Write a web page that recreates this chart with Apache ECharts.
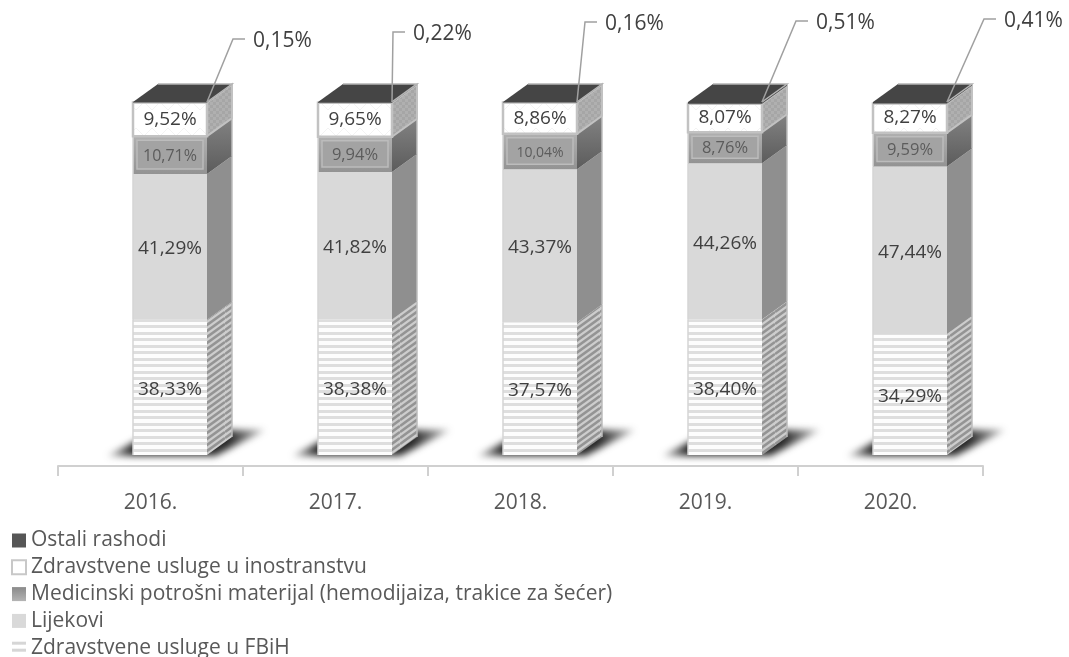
<!DOCTYPE html>
<html>
<head>
<meta charset="utf-8">
<title>Rashodi</title>
<style>
html, body { margin: 0; padding: 0; background: #fff; }
#main { width: 1069px; height: 657px; }
</style>
<script src="https://cdn.jsdelivr.net/npm/echarts@6/dist/echarts.min.js"></script>
</head>
<body>
<div id="main"></div>
<script>
// values, in percent, bottom of the stack first
var years = ['2016.', '2017.', '2018.', '2019.', '2020.'];
var zdravstveneFbih = [38.33, 38.38, 37.57, 38.40, 34.29];
var lijekovi = [41.29, 41.82, 43.37, 44.26, 47.44];
var medicinski = [10.71, 9.94, 10.04, 8.76, 9.59];
var inostranstvo = [9.52, 9.65, 8.86, 8.07, 8.27];
var ostali = [0.15, 0.22, 0.16, 0.51, 0.41];

var seriesNames = [
    'Zdravstvene usluge u FBiH',
    'Lijekovi',
    'Medicinski potrošni materijal (hemodijaiza, trakice za šećer)',
    'Zdravstvene usluge u inostranstvu',
    'Ostali rashodi'
];
var seriesValues = [zdravstveneFbih, lijekovi, medicinski, inostranstvo, ostali];

// box shape
var FONT = '"Open Sans"';
var BOX_SHIFT = -17.5;
var BOX_W = 74;
var DX = 25;
var DY = -18;
var medFontSize = [16, 16.5, 14, 16.5, 16.5];
var calloutElbow = [[26, -63], [1, -70], [8, -80], [34, -81], [37, -83]];

function makePattern(w, h, draw) {
    var c = document.createElement('canvas');
    c.width = w;
    c.height = h;
    draw(c.getContext('2d'));
    return { image: c, repeat: 'repeat' };
}

var stripesFront = makePattern(4, 13, function (g) {
    g.fillStyle = '#fdfdfd';
    g.fillRect(0, 0, 4, 13);
    g.fillStyle = '#dedede';
    g.fillRect(0, 0, 4, 3);
    g.fillRect(0, 7, 4, 3);
});
var stripesSide = makePattern(25, 6, function (g) {
    g.fillStyle = '#cdcdcd';
    g.fillRect(0, 0, 25, 6);
    g.strokeStyle = '#949494';
    g.lineWidth = 2.6;
    for (var i = -4; i < 5; i++) {
        g.beginPath();
        g.moveTo(0, 18 + i * 6);
        g.lineTo(25, i * 6);
        g.stroke();
    }
});
var hatchSide = makePattern(6, 6, function (g) {
    g.fillStyle = '#a6a6a6';
    g.fillRect(0, 0, 6, 6);
    g.fillStyle = '#b0b0b0';
    g.fillRect(0, 0, 3, 3);
    g.fillRect(3, 3, 3, 3);
});
var zigzagFront = makePattern(16, 34, function (g) {
    g.fillStyle = '#ffffff';
    g.fillRect(0, 0, 16, 34);
    g.strokeStyle = '#f3f3f3';
    g.lineWidth = 1;
    g.beginPath();
    g.moveTo(0, 0);
    g.lineTo(8, 8);
    g.lineTo(16, 0);
    g.moveTo(0, 34);
    g.lineTo(8, 26);
    g.lineTo(16, 34);
    g.stroke();
});

// soft floor shadow, drawn once and stamped under each column
var SHADOW_X = 40;
var SHADOW_Y = 50;
var floorShadow = document.createElement('canvas');
floorShadow.width = 220;
floorShadow.height = 70;
(function () {
    var g = floorShadow.getContext('2d');
    var fade = g.createLinearGradient(SHADOW_X - 30, 0, SHADOW_X + 134, 0);
    fade.addColorStop(0, 'rgba(40,40,40,0.1)');
    fade.addColorStop(0.18, 'rgba(40,40,40,1)');
    fade.addColorStop(0.76, 'rgba(40,40,40,1)');
    fade.addColorStop(1, 'rgba(40,40,40,0.25)');
    g.filter = 'blur(3.5px)';
    g.fillStyle = fade;
    g.beginPath();
    g.moveTo(SHADOW_X - 26, SHADOW_Y + 1);
    g.lineTo(SHADOW_X + 82, SHADOW_Y + 1);
    g.lineTo(SHADOW_X + 132, SHADOW_Y - 25);
    g.lineTo(SHADOW_X + 24, SHADOW_Y - 25);
    g.closePath();
    g.fill();
})();

var sideGradient = new echarts.graphic.LinearGradient(0, 0, 0, 1, [
    { offset: 0, color: '#828282' },
    { offset: 1, color: '#5c5c5c' }
]);
var medFront = new echarts.graphic.LinearGradient(0, 0, 0, 1, [
    { offset: 0, color: '#b0b0b0' },
    { offset: 1, color: '#939393' }
]);
var medSwatch = new echarts.graphic.LinearGradient(0, 0, 0, 1, [
    { offset: 0, color: '#8a8a8a' },
    { offset: 1, color: '#b4b4b4' }
]);

var faces = [
    { front: stripesFront, side: stripesSide },
    { front: '#d9d9d9', side: '#8f8f8f' },
    { front: medFront, side: sideGradient },
    { front: zigzagFront, side: hatchSide },
    { front: '#454545', side: '#454545' }
];
var swatches = [
    { color: makePattern(4, 7, function (g) {
        g.fillStyle = '#ffffff';
        g.fillRect(0, 0, 4, 7);
        g.fillStyle = '#d6d6d6';
        g.fillRect(0, 1, 4, 3);
    }) },
    { color: '#d9d9d9' },
    { color: medSwatch },
    { color: '#ffffff', borderColor: '#c8c8c8', borderWidth: 2 },
    { color: '#565656' }
];

function poly(points, fill) {
    return { type: 'polygon', shape: { points: points }, style: { fill: fill } };
}

function label(text, x, y, size, color, align) {
    return {
        type: 'text',
        style: {
            x: x, y: y, text: text, fill: color, align: align || 'center', verticalAlign: 'middle',
            font: size + 'px ' + FONT
        }
    };
}

function pct(v) {
    return v.toFixed(2).replace('.', ',') + '%';
}

function renderBox(seriesIdx) {
    return function (params, api) {
        var idx = api.value(0);
        var base = api.value(1);
        var top = api.value(2);
        var value = api.value(3);
        var cx = api.coord([idx, 0])[0];
        var xl = cx + BOX_SHIFT;
        var xr = xl + BOX_W;
        var yb = api.coord([idx, base])[1];
        var yt = api.coord([idx, top])[1];
        var face = faces[seriesIdx];
        var kids = [];

        if (seriesIdx === 0) {
            kids.push({
                type: 'image',
                style: { image: floorShadow, x: xl - SHADOW_X, y: yb - SHADOW_Y, width: 220, height: 70 }
            });
        }

        kids.push(poly([[xr, yb], [xr + DX, yb + DY], [xr + DX, yt + DY], [xr, yt]], face.side));
        kids.push(poly([[xl, yb], [xr, yb], [xr, yt], [xl, yt]], face.front));

        if (seriesIdx === 2) {
            // lighter inset panel on the front
            kids.push({
                type: 'rect',
                shape: { x: xl + 4, y: yt + 4, width: BOX_W - 8, height: yb - yt - 9 },
                style: { fill: '#a3a3a3', stroke: '#bcbcbc', lineWidth: 1.5 }
            });
        }
        if (seriesIdx === 3) {
            kids.push({
                type: 'rect',
                shape: { x: xl, y: yt, width: BOX_W, height: yb - yt },
                style: { fill: 'none', stroke: '#c2c2c2', lineWidth: 2.5 }
            });
            kids.push({
                type: 'polyline',
                shape: { points: [[xr, yb], [xr + DX, yb + DY], [xr + DX, yt + DY], [xr, yt]] },
                style: { fill: 'none', stroke: '#c2c2c2', lineWidth: 2 }
            });
        } else if (seriesIdx !== 4) {
            kids.push({
                type: 'polyline',
                shape: { points: [[xr + DX, yb + DY], [xr + DX, yt + DY]] },
                style: { fill: 'none', stroke: '#bdbdbd', lineWidth: 1.5 }
            });
            kids.push({
                type: 'polyline',
                shape: { points: [[xl, yb], [xl, yt]] },
                style: { fill: 'none', stroke: '#d4d4d4', lineWidth: 1.5 }
            });
        }

        var midX = (xl + xr) / 2;
        var midY = (yb + yt) / 2;
        if (seriesIdx === 2) {
            kids.push(label(pct(value), midX, midY + 1, medFontSize[idx], '#5c5c5c'));
        } else if (seriesIdx === 3) {
            kids.push(label(pct(value), midX, midY, 19, '#404040'));
        } else if (seriesIdx < 2) {
            kids.push(label(pct(value), midX, midY + 2, 19, '#404040'));
        } else {
            // top face and the callout for the small share
            kids.push(poly([[xl, yt], [xr, yt], [xr + DX, yt + DY], [xl + DX, yt + DY]], '#454545'));
            kids.push({
                type: 'polyline',
                shape: { points: [[xr, yt], [xr + DX, yt + DY], [xl + DX, yt + DY]] },
                style: { fill: 'none', stroke: '#b4b4b4', lineWidth: 1.5 }
            });
            var elbow = calloutElbow[idx];
            var ex = xr + elbow[0];
            var ey = yt + elbow[1];
            kids.push({
                type: 'polyline',
                shape: { points: [[xr, yt], [ex, ey], [ex + 12, ey]] },
                style: { fill: 'none', stroke: '#a0a0a0', lineWidth: 1.5 }
            });
            kids.push(label(pct(value), ex + 20, ey + 2, 21, '#404040', 'left'));
        }
        return { type: 'group', children: kids };
    };
}

var series = seriesNames.map(function (name, s) {
    var rows = years.map(function (y, i) {
        var base = 0;
        for (var j = 0; j < s; j++) base += seriesValues[j][i];
        return [i, base, base + seriesValues[s][i], seriesValues[s][i]];
    });
    return {
        name: name,
        type: 'custom',
        renderItem: renderBox(s),
        encode: { x: 0, y: [1, 2] },
        silent: true,
        data: rows
    };
});

var legendData = seriesNames.map(function (name, s) {
    return { name: name, icon: 'rect', itemStyle: swatches[s] };
}).reverse();

var option = {
    animation: false,
    backgroundColor: '#ffffff',
    textStyle: { fontFamily: FONT },
    grid: { left: 58, right: 86, top: 102, bottom: 202 },
    legend: {
        orient: 'vertical',
        left: 11,
        top: 530,
        height: 200,
        padding: 0,
        itemWidth: 14,
        itemHeight: 14,
        itemGap: 5.8,
        selectedMode: false,
        textStyle: { fontFamily: 'Open Sans', fontSize: 21, color: '#595959' },
        data: legendData
    },
    xAxis: {
        type: 'category',
        data: years,
        offset: 11,
        axisLine: { onZero: false, lineStyle: { color: '#d0d0d0', width: 2 } },
        axisTick: { show: true, length: 10, lineStyle: { color: '#d0d0d0', width: 2 } },
        axisLabel: { fontFamily: 'Open Sans', fontSize: 21, color: '#595959', margin: 27 }
    },
    yAxis: {
        type: 'value',
        min: 0,
        max: 100,
        show: false
    },
    series: series
};

var chart = echarts.init(document.getElementById('main'));
chart.setOption(option);
</script>
</body>
</html>
